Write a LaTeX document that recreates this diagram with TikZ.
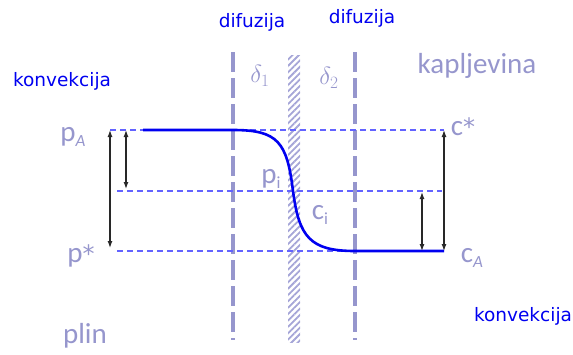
\documentclass[tikz,border=0pt]{standalone}
\usepackage{fontspec}
\usepackage{amsmath}
\setmainfont{Carlito}
\newfontfamily\blufont{DejaVu Sans}
\usetikzlibrary{arrows.meta,patterns.meta}
\definecolor{lavender}{RGB}{150,150,205}
\definecolor{hatchcol}{RGB}{165,165,215}
\definecolor{dashblue}{RGB}{60,60,255}
\definecolor{myblue}{RGB}{0,0,240}
\definecolor{arrgray}{RGB}{40,40,40}
\tikzset{
  % blue labels (konvekcija, difuzija)
  blulabel/.style={text=myblue,font=\blufont\fontsize{18.5}{21}\selectfont,inner sep=0pt},
  % lavender labels
  lavlabel/.style={text=lavender,font=\fontsize{29}{32}\selectfont,inner sep=0pt},
  % film borders
  filmline/.style={lavender,line width=4pt,dash pattern=on 20pt off 6pt},
  % partial pressure / concentration levels
  levelline/.style={dashblue!80,line width=1.2pt,dash pattern=on 6pt off 4pt},
  % profile
  profile/.style={myblue,line width=2.6pt},
  % double arrow
  dbl/.style={arrgray,line width=1.2pt,{Latex[length=7pt,width=5pt]}-{Latex[length=7pt,width=5pt]}},
}
\newcommand\lowsub[1]{\raisebox{-5pt}{\fontsize{17}{17}\selectfont #1}}
\newcommand\bigast{{\blufont\fontsize{24}{24}\selectfont *}}

\begin{document}
\begin{tikzpicture}[x=1pt,y=-1pt]
  \useasboundingbox (0,0) rectangle (573,354);
  % labels
  \node[blulabel] (konvL) at (62,81) {konvekcija};
  \node[blulabel] (konvR) at (523,316) {konvekcija};
  \node[blulabel] (difL) at (252,22) {difuzija};
  \node[blulabel] (difR) at (362,18) {difuzija};
  \node[lavlabel] (kaplj) at (477,66) {kapljevina};
  \node[lavlabel] (plin) at (85,336) {plin};
  \node[lavlabel,font=\fontsize{27}{30}\selectfont] (d1) at (260,76) {$\delta_1$};
  \node[lavlabel,font=\fontsize{27}{30}\selectfont] (d2) at (329,78) {$\delta_2$};
  %%%%%%%%%%%%%%%%%%%%%%%%%%%%%%%%%%%%%%%
  \coordinate (f1t) at (233,52);  \coordinate (f1b) at (233,340);
  \coordinate (f2t) at (355,52);  \coordinate (f2b) at (355,340);
  \draw[filmline] (f1t) -- (f1b);
  \draw[filmline] (f2t) -- (f2b);
  \fill[pattern={Lines[angle=45,distance=4.5pt,line width=1.8pt]},pattern color=hatchcol]
    (288,55) rectangle (300,342);
  %%%%%%%%%%%%%%%%%%%%%%%%%%%%%%%%%%%%%%%
  \coordinate (topL) at (110,130); \coordinate (topR) at (444,130);
  \coordinate (midL) at (117,191); \coordinate (midR) at (442,191);
  \coordinate (botL) at (117,251); \coordinate (botR) at (444,251);
  \coordinate (botM) at (355,251);
  \draw[levelline] (topL) -- (topR);
  \draw[levelline] (midL) -- (midR);
  \draw[levelline] (botL) -- (botM);
  %%%%%%%%%%%%%%%%%%%%%%%%%%%%%%%%%%%%%%%
  \coordinate (pstart) at (143,130);
  \coordinate (pbend) at (233,130);
  \coordinate (pint) at (293,191);
  \draw[profile] (pstart) -- (pbend) .. controls (278,130) and (287,142) .. (pint)
    .. controls (299,237) and (310,251) .. (botM) -- (botR);
  %%%%%%%%%%%%%%%%%%%%%%%%%%%%%%%%%%%%%%%
  \coordinate (a1t) at (110,130); \coordinate (a1b) at (110,248);
  \coordinate (a2t) at (126,130); \coordinate (a2b) at (126,189);
  \coordinate (a3t) at (444,130); \coordinate (a3b) at (444,251);
  \coordinate (a4t) at (422,192); \coordinate (a4b) at (422,251);
  \draw[dbl] (a1t) -- (a1b);
  \draw[dbl] (a2t) -- (a2b);
  \draw[dbl] (a3t) -- (a3b);
  \draw[dbl] (a4t) -- (a4b);
  %%%%%%%%%%%%%%%%%%%%%%%%%%%%%%%%%%%%%%%
  \node[lavlabel] (pA) at (73,137) {p\lowsub{\itshape A}};
  \node[lavlabel] (pst) at (81,256) {p\bigast};
  \node[lavlabel] (cst) at (463,127) {c\bigast};
  \node[lavlabel] (cA) at (472,258) {c\lowsub{\itshape A}};
  \node[lavlabel] (pi) at (271,179) {p\lowsub{i}};
  \node[lavlabel] (ci) at (320,215) {c\lowsub{i}};
\end{tikzpicture}
\end{document}
